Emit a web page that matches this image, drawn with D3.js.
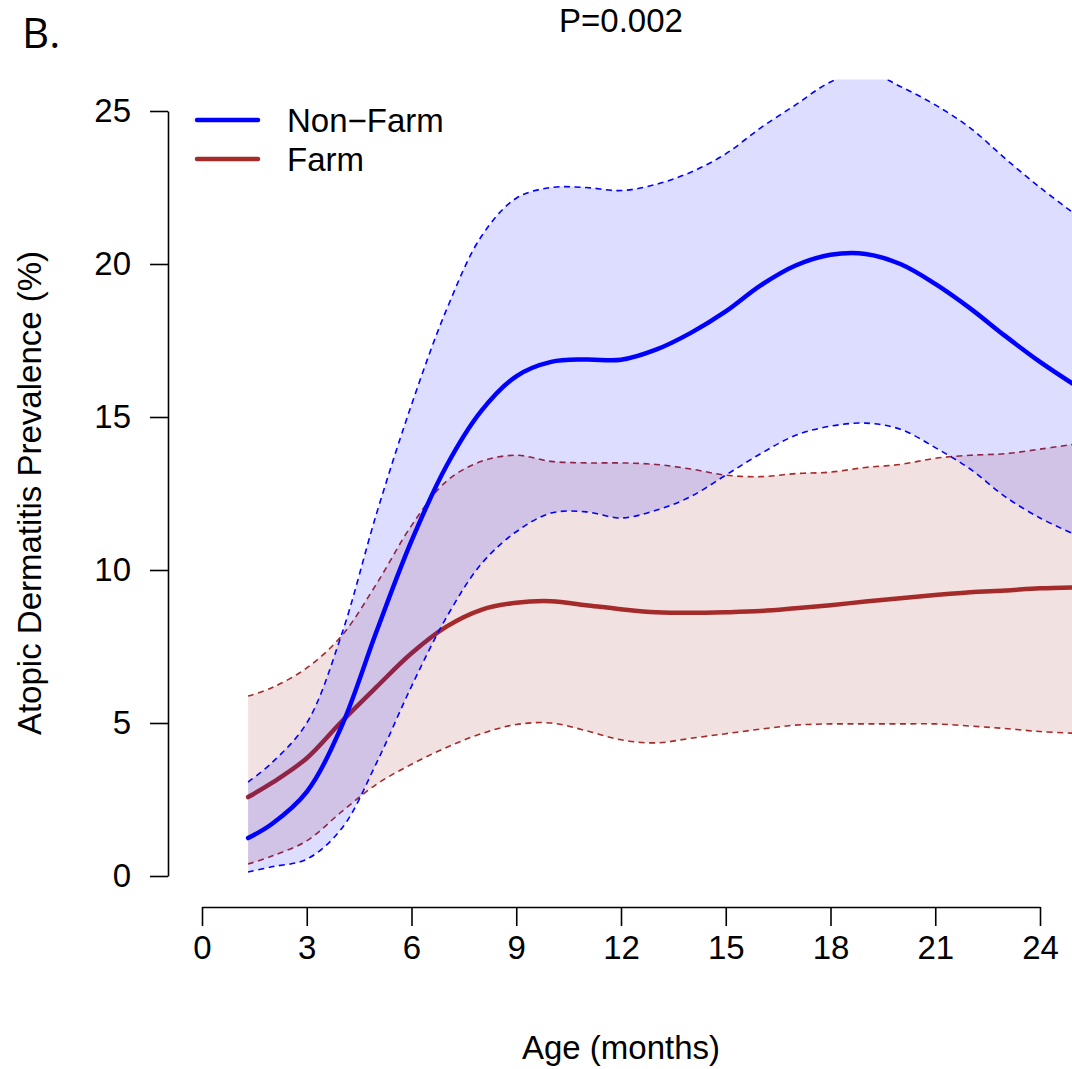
<!DOCTYPE html>
<html><head><meta charset="utf-8">
<script src="https://cdn.jsdelivr.net/npm/d3@7"></script>
<style>html,body{margin:0;padding:0;background:#fff;}svg{display:block;}</style>
</head><body>
<script>
// ---- data ----
const months = [1.32, 2, 3, 4, 5, 6, 7, 8, 9, 10, 11, 12, 13, 14, 15, 16, 17, 18, 19, 20, 21, 22, 23, 24, 24.92];
const nonFarmMean = [1.24, 1.7, 2.75, 4.9, 8.0, 10.95, 13.4, 15.2, 16.33, 16.8, 16.88, 16.87, 17.2, 17.75, 18.45, 19.3, 19.95, 20.3, 20.33, 20.0, 19.35, 18.55, 17.65, 16.8, 16.1];
const nonFarmUpper = [3.07, 3.7, 5.0, 7.9, 11.85, 15.4, 18.5, 20.9, 22.15, 22.5, 22.5, 22.4, 22.6, 23.0, 23.6, 24.45, 25.2, 25.95, 26.3, 25.8, 25.2, 24.45, 23.45, 22.5, 21.7];
const nonFarmLower = [0.13, 0.3, 0.55, 1.55, 3.7, 6.2, 8.45, 10.2, 11.25, 11.86, 11.9, 11.7, 11.95, 12.4, 13.1, 13.8, 14.4, 14.7, 14.8, 14.6, 14.0, 13.3, 12.4, 11.7, 11.2];
const farmMean = [2.58, 3.04, 3.85, 5.05, 6.18, 7.28, 8.15, 8.7, 8.93, 8.98, 8.85, 8.72, 8.62, 8.6, 8.62, 8.66, 8.75, 8.85, 8.97, 9.08, 9.18, 9.27, 9.33, 9.4, 9.43];
const farmUpper = [5.88, 6.15, 6.8, 7.85, 9.55, 11.45, 12.9, 13.55, 13.75, 13.55, 13.5, 13.5, 13.45, 13.3, 13.1, 13.05, 13.15, 13.2, 13.35, 13.45, 13.65, 13.75, 13.8, 13.95, 14.1];
const farmLower = [0.39, 0.65, 1.15, 2.1, 3.0, 3.65, 4.2, 4.65, 4.95, 5.0, 4.75, 4.45, 4.35, 4.5, 4.65, 4.8, 4.93, 4.97, 4.97, 4.97, 4.97, 4.9, 4.82, 4.72, 4.67];
const xTicks = [0, 3, 6, 9, 12, 15, 18, 21, 24];
const yTicks = [0, 5, 10, 15, 20, 25];
const legendLabels = ["Non\u2212Farm", "Farm"];
const titleText = "P=0.002";
const panelLabel = "B.";
const xLabel = "Age (months)";
const yLabel = "Atopic Dermatitis Prevalence (%)";

// ---- layout ----
const W = 1072, H = 1069;
const font = "'Liberation Sans', Arial, Helvetica, sans-serif";
const fs = 33;
const svg = d3.select("body").append("svg").attr("width", W).attr("height", H);

const x = d3.scaleLinear().domain([0, 24]).range([202, 1040]);
const y = d3.scaleLinear().domain([0, 25]).range([876, 111]);

const colNF = "#0000FF", colF = "#A52A2A";

svg.append("defs").append("clipPath").attr("id", "plotclip")
  .append("rect").attr("x", 168).attr("y", 79.5).attr("width", W - 168).attr("height", 876 - 79.5 + 30);

const plot = svg.append("g").attr("clip-path", "url(#plotclip)");

function rows(mean, lo, hi) { return months.map((m, i) => ({m, mean: mean[i], lo: lo[i], hi: hi[i]})); }
const curve = d3.curveCatmullRom.alpha(0.5);
const area = d3.area().x(d => x(d.m)).y0(d => y(d.lo)).y1(d => y(d.hi)).curve(curve);
const lineOf = key => d3.line().x(d => x(d.m)).y(d => y(d[key])).curve(curve);

function drawGroup(data, col, fillOp) {
  plot.append("path").datum(data).attr("d", area).attr("fill", col).attr("fill-opacity", fillOp).attr("stroke", "none");
  ["lo", "hi"].forEach(k => plot.append("path").datum(data).attr("d", lineOf(k))
    .attr("fill", "none").attr("stroke", col).attr("stroke-width", 1.6).attr("stroke-dasharray", "6,4.5"));
  plot.append("path").datum(data).attr("d", lineOf("mean"))
    .attr("fill", "none").attr("stroke", col).attr("stroke-width", 4.5).attr("stroke-linecap", "round");
}
drawGroup(rows(farmMean, farmLower, farmUpper), colF, 0.14);
drawGroup(rows(nonFarmMean, nonFarmLower, nonFarmUpper), colNF, 0.133);

// ---- axes ----
const yAxis = svg.append("g").attr("transform", "translate(168,0)")
  .call(d3.axisLeft(y).tickValues(yTicks).tickSize(18).tickPadding(19).tickSizeOuter(0));
const xAxis = svg.append("g").attr("transform", "translate(0,907)")
  .call(d3.axisBottom(x).tickValues(xTicks).tickSize(19).tickPadding(10).tickSizeOuter(0));
[yAxis, xAxis].forEach(a => {
  a.select(".domain").attr("stroke", "#000").attr("stroke-width", 1.6);
  a.selectAll(".tick line").attr("stroke", "#000").attr("stroke-width", 1.6);
  a.selectAll(".tick text").attr("font-family", font).attr("font-size", fs).attr("fill", "#000");
});

// ---- texts ----
svg.append("text").attr("x", 621).attr("y", 32).attr("text-anchor", "middle")
  .attr("font-family", font).attr("font-size", 33).text(titleText);
svg.append("text").attr("x", 22).attr("y", 48)
  .attr("font-family", "'Open Sans', 'Liberation Sans', sans-serif").attr("font-size", 42).text(panelLabel);
svg.append("text").attr("x", 621).attr("y", 1059).attr("text-anchor", "middle")
  .attr("font-family", font).attr("font-size", fs).text(xLabel);
svg.append("text").attr("transform", "translate(41,493) rotate(-90)").attr("text-anchor", "middle")
  .attr("font-family", font).attr("font-size", fs).text(yLabel);

// ---- legend ----
const legCols = [colNF, colF];
legendLabels.forEach((lab, i) => {
  const ly = 120 + i * 39;
  svg.append("line").attr("x1", 197).attr("x2", 258).attr("y1", ly).attr("y2", ly)
    .attr("stroke", legCols[i]).attr("stroke-width", 4.5).attr("stroke-linecap", "round");
  svg.append("text").attr("x", 287).attr("y", ly + 12).attr("font-family", font).attr("font-size", fs).text(lab);
});
</script>
</body></html>
